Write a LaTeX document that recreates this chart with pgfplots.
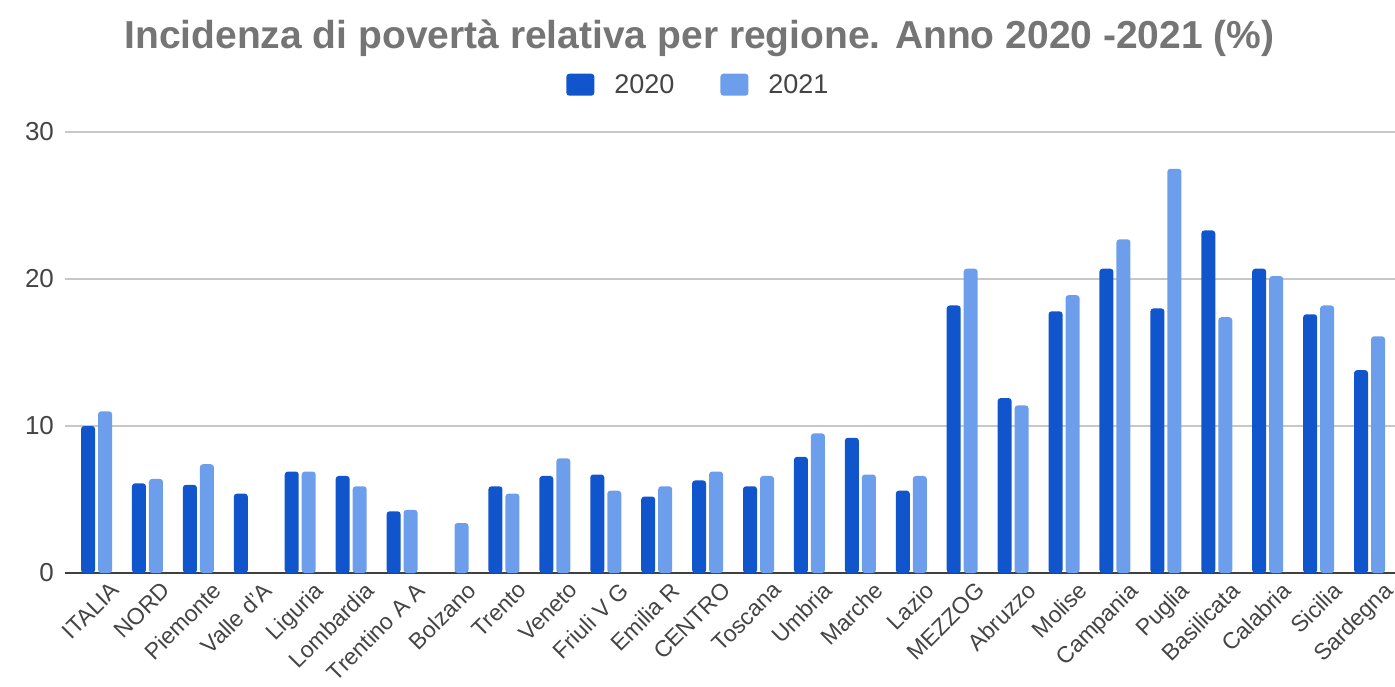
\documentclass[border=0pt]{standalone}
\usepackage{pgfplots}
\pgfplotsset{compat=1.18}
\usepackage{pgfplotstable}
\usepackage{fontspec}
\setmainfont{Liberation Sans}
\definecolor{c2020}{HTML}{1155CC}
\definecolor{c2021}{HTML}{6D9EEB}
\definecolor{txt}{HTML}{444444}
\definecolor{ttl}{HTML}{757575}

\pgfplotstableread{
x y2020 y2021
0 10.0 11.0
1 6.1 6.4
2 6.0 7.4
3 5.4 nan
4 6.9 6.9
5 6.6 5.9
6 4.2 4.3
7 nan 3.4
8 5.9 5.4
9 6.6 7.8
10 6.7 5.6
11 5.2 5.9
12 6.3 6.9
13 5.9 6.6
14 7.9 9.5
15 9.2 6.7
16 5.6 6.6
17 18.2 20.7
18 11.9 11.4
19 17.8 18.9
20 20.7 22.7
21 18.0 27.5
22 23.3 17.4
23 20.7 20.2
24 17.6 18.2
25 13.8 16.1
}\datatable

\begin{document}
\begin{tikzpicture}
\useasboundingbox (-32.5pt,-56.5pt) rectangle (665pt,286.5pt);
\begin{axis}[
    scale only axis,
    width=665pt, height=220.5pt,
    at={(0,0)}, anchor=south west,
    ybar=1.5pt, bar width=7pt,
    xmin=-0.62, xmax=25.5,
    ymin=0, ymax=30,
    ytick={10,20,30},
    extra y ticks={0},
    extra y tick style={grid style={draw=black!75, line width=1pt}},
    ymajorgrids=true,
    grid style={draw=black!22, line width=0.6pt},
    axis line style={draw=none},
    major tick length=0pt,
    xtick={0,...,25},
    xticklabels={ITALIA,NORD,Piemonte,Valle d'A,Liguria,Lombardia,Trentino A A,Bolzano,Trento,Veneto,Friuli V G,Emilia R,CENTRO,Toscana,Umbria,Marche,Lazio,MEZZOG,Abruzzo,Molise,Campania,Puglia,Basilicata,Calabria,Sicilia,Sardegna},
    x tick label style={rotate=45, anchor=north east, font=\fontsize{11.5}{13}\selectfont, text=txt, xshift=3pt, yshift=-6pt, inner sep=1pt},
    y tick label style={font=\fontsize{13}{15}\selectfont, text=txt, xshift=-2pt},
    /pgf/number format/assume math mode=true,
    title={Incidenza di povertà relativa per regione. Anno 2020 -2021 (\%)},
    title style={at={(rel axis cs:0.477,1.185)}, anchor=center, font=\bfseries\fontsize{19.5}{22}\selectfont, text=ttl},
    legend style={at={(0.477,1.105)}, anchor=center, draw=none, legend columns=2,
        font=\fontsize{13.5}{15}\selectfont, text=txt,
        /tikz/every odd column/.append style={column sep=8pt},
        /tikz/every even column/.append style={column sep=21pt}},
    legend image code/.code={\fill[#1] (0pt,-5pt) rectangle (14pt,6pt);},
]
\addplot[fill=c2020, draw=none, rounded corners=1.5pt] table[x=x, y=y2020] {\datatable};
\addlegendentry{2020}
\addplot[fill=c2021, draw=none, rounded corners=1.5pt] table[x=x, y=y2021] {\datatable};
\addlegendentry{2021}
\end{axis}
\end{tikzpicture}
\end{document}
